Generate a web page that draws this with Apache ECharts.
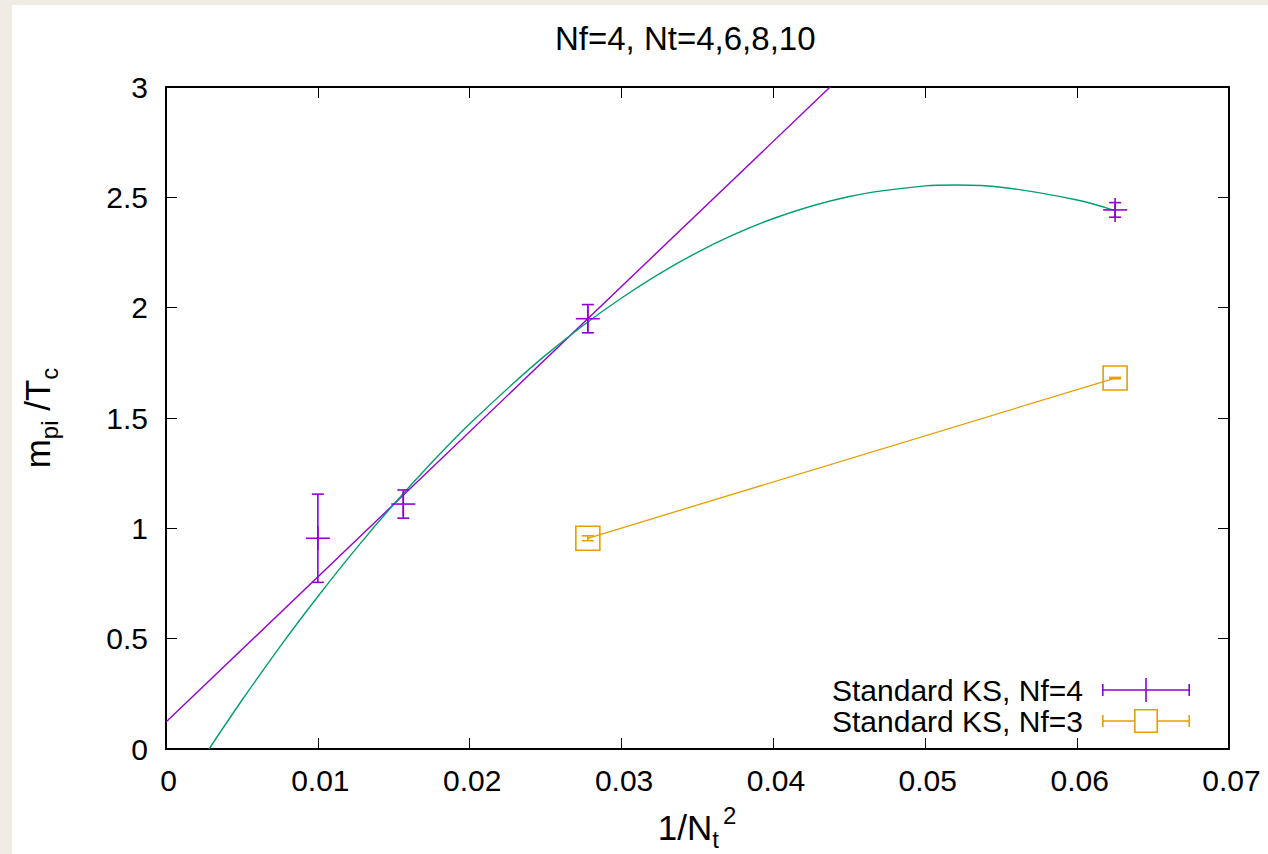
<!DOCTYPE html>
<html>
<head>
<meta charset="utf-8">
<script src="https://cdn.jsdelivr.net/npm/echarts@6/dist/echarts.min.js"></script>
<style>
  html, body { margin: 0; padding: 0; background: #efece5; width: 1268px; height: 854px; overflow: hidden; }
  #c { position: absolute; left: 12px; top: 5px; width: 1256px; height: 849px; background: #ffffff; }
</style>
</head>
<body>
<div id="c"></div>
<script>
// ---- data ----
const titleText = 'Nf=4, Nt=4,6,8,10';
const xTickLabels = ['0', '0.01', '0.02', '0.03', '0.04', '0.05', '0.06', '0.07'];
const yTickLabels = ['0', '0.5', '1', '1.5', '2', '2.5', '3'];

const nf4Name = 'Standard KS, Nf=4';
const nf4X = [0.01, 0.015625, 0.027778, 0.0625];
const nf4Y = [0.955, 1.110, 1.950, 2.443];
const nf4Err = [0.200, 0.064, 0.064, 0.033];

const nf3Name = 'Standard KS, Nf=3';
const nf3X = [0.027778, 0.0625];
const nf3Y = [0.955, 1.681];
const nf3Err = [0.011, 0.003];

// linear fit (purple) end points
const linFitX = [0, 0.04373];
const linFitY = [0.122, 3.0];

// curved fit (green)
const curveX = [0.00283, 0.005, 0.0075, 0.01, 0.0125, 0.015, 0.0175, 0.02, 0.025, 0.03, 0.035, 0.04, 0.045, 0.05, 0.052, 0.055, 0.06, 0.0625];
const curveY = [0, 0.221, 0.463, 0.691, 0.907, 1.109, 1.298, 1.474, 1.785, 2.044, 2.251, 2.404, 2.504, 2.552, 2.556, 2.546, 2.488, 2.440];

// ---- styling ----
const FONT = 'Liberation Sans, Arial, Helvetica, sans-serif';
const FS = 30;
const FS_TITLE = 33;
const FS_LEGEND = 30;
const FS_AXTITLE = 35;
const FS_SUB = 24;
const PURPLE = '#9400d3';
const ORANGE = '#e69f00';
const GREEN = '#009e73';

function zip2(a, b) { return a.map((v, i) => [v, b[i]]); }
function zip3(a, b, c) { return a.map((v, i) => [v, b[i], c[i]]); }

function errRender(kind) {
  return function (params, api) {
    const x = api.value(0), y = api.value(1), e = api.value(2);
    const c = api.coord([x, y]);
    const hi = api.coord([x, y + e]);
    const lo = api.coord([x, y - e]);
    const color = api.visual('color');
    const st = { stroke: color, lineWidth: 1.6, fill: null };
    const cap = 6;
    const ch = [
      { type: 'line', shape: { x1: c[0], y1: hi[1], x2: c[0], y2: lo[1] }, style: st },
      { type: 'line', shape: { x1: c[0] - cap, y1: hi[1], x2: c[0] + cap, y2: hi[1] }, style: st },
      { type: 'line', shape: { x1: c[0] - cap, y1: lo[1], x2: c[0] + cap, y2: lo[1] }, style: st }
    ];
    if (kind === 'plus') {
      ch.push({ type: 'line', shape: { x1: c[0] - 12, y1: c[1], x2: c[0] + 12, y2: c[1] }, style: st });
      ch.push({ type: 'line', shape: { x1: c[0], y1: c[1] - 12, x2: c[0], y2: c[1] + 12 }, style: st });
    } else {
      ch.push({ type: 'rect', shape: { x: c[0] - 12, y: c[1] - 12, width: 24, height: 24 }, style: { stroke: color, lineWidth: 1.6, fill: 'none' } });
    }
    return { type: 'group', children: ch };
  };
}

const iconNf4 = 'path://M0,11.2H88V12.8H0Z M0,6H1.6V18H0Z M86.4,6H88V18H86.4Z M43.2,0H44.8V24H43.2Z';
const iconNf3 = 'path://M0,11.2H32V12.8H0Z M56,11.2H88V12.8H56Z M0,6H1.6V18H0Z M86.4,6H88V18H86.4Z M32,0H56V24H32Z M33.6,1.6V22.4H54.4V1.6Z';

const axisCommon = {
  type: 'value',
  axisLine: { show: true, onZero: false, lineStyle: { color: '#000', width: 2 } },
  axisTick: { show: true, inside: true, length: 11, lineStyle: { color: '#000', width: 1 } },
  splitLine: { show: false }
};

const chart = echarts.init(document.getElementById('c'), null, { renderer: 'svg' });
chart.setOption({
  animation: false,
  backgroundColor: '#ffffff',
  textStyle: { fontFamily: FONT },
  title: {
    text: titleText,
    left: 543,
    top: 17,
    padding: 0,
    textStyle: { fontFamily: FONT, fontSize: FS_TITLE, fontWeight: 'normal', color: '#000' }
  },
  grid: { left: 154, right: 39, top: 82, bottom: 105, containLabel: false },
  xAxis: [
    Object.assign({}, axisCommon, {
      position: 'bottom', min: 0, max: 0.07, interval: 0.01,
      axisLabel: { show: true, color: '#000', fontFamily: FONT, fontSize: FS, margin: 16, padding: [0, 0, 0, 5],
        formatter: v => xTickLabels[Math.round(v / 0.01)] }
    }),
    Object.assign({}, axisCommon, {
      position: 'top', min: 0, max: 0.07, interval: 0.01,
      axisLabel: { show: false }
    })
  ],
  yAxis: [
    Object.assign({}, axisCommon, {
      position: 'left', min: 0, max: 3, interval: 0.5,
      axisLabel: { show: true, color: '#000', fontFamily: FONT, fontSize: FS, margin: 18,
        formatter: v => yTickLabels[Math.round(v / 0.5)] }
    }),
    Object.assign({}, axisCommon, {
      position: 'right', min: 0, max: 3, interval: 0.5,
      axisLabel: { show: false }
    })
  ],
  legend: {
    orient: 'vertical',
    right: 78,
    bottom: 118,
    align: 'right',
    itemWidth: 88,
    itemHeight: 24,
    itemGap: 1,
    padding: 0,
    selectedMode: false,
    textStyle: { fontFamily: FONT, fontSize: FS_LEGEND, color: '#000', padding: [0, 14, 0, 0] },
    data: [
      { name: nf4Name, icon: iconNf4, itemStyle: { color: PURPLE, borderWidth: 0 } },
      { name: nf3Name, icon: iconNf3, itemStyle: { color: ORANGE, borderWidth: 0 } }
    ]
  },
  graphic: [
    {
      type: 'text', x: 25, y: 413, rotation: Math.PI / 2,
      style: {
        text: '{a|m}{s|pi}{a| /T}{s|c}',
        align: 'center', verticalAlign: 'middle', fill: '#000',
        rich: {
          a: { fontFamily: FONT, fontSize: FS_AXTITLE, lineHeight: 48, verticalAlign: 'middle', fill: '#000' },
          s: { fontFamily: FONT, fontSize: FS_SUB, lineHeight: 25, verticalAlign: 'bottom', fill: '#000' }
        }
      }
    },
    {
      type: 'text', x: 685, y: 822,
      style: {
        text: '{a|1/N}{s|t}{p|2}',
        align: 'center', verticalAlign: 'middle', fill: '#000',
        rich: {
          a: { fontFamily: FONT, fontSize: FS_AXTITLE, lineHeight: 48, verticalAlign: 'middle', fill: '#000' },
          s: { fontFamily: FONT, fontSize: FS_SUB, lineHeight: 25, verticalAlign: 'bottom', fill: '#000' },
          p: { fontFamily: FONT, fontSize: FS_SUB, lineHeight: 25, verticalAlign: 'top', fill: '#000', padding: [0, 0, 0, 4] }
        }
      }
    }
  ],
  series: [
    {
      type: 'line', name: 'linear fit', xAxisIndex: 0, yAxisIndex: 0,
      data: zip2(linFitX, linFitY), symbol: 'none', z: 2,
      lineStyle: { color: PURPLE, width: 1.4 }, silent: true
    },
    {
      type: 'line', name: 'curve fit', xAxisIndex: 0, yAxisIndex: 0,
      data: zip2(curveX, curveY), symbol: 'none', smooth: 0.3, z: 2,
      lineStyle: { color: GREEN, width: 1.4 }, silent: true
    },
    {
      type: 'line', name: 'nf3 line', xAxisIndex: 0, yAxisIndex: 0,
      data: zip2(nf3X, nf3Y), symbol: 'none', z: 3,
      lineStyle: { color: ORANGE, width: 1.3 }, silent: true
    },
    {
      type: 'custom', name: nf4Name, xAxisIndex: 0, yAxisIndex: 0,
      renderItem: errRender('plus'), data: zip3(nf4X, nf4Y, nf4Err),
      itemStyle: { color: PURPLE }, z: 5, clip: false
    },
    {
      type: 'custom', name: nf3Name, xAxisIndex: 0, yAxisIndex: 0,
      renderItem: errRender('square'), data: zip3(nf3X, nf3Y, nf3Err),
      itemStyle: { color: ORANGE }, z: 5, clip: false
    }
  ]
});
</script>
</body>
</html>
